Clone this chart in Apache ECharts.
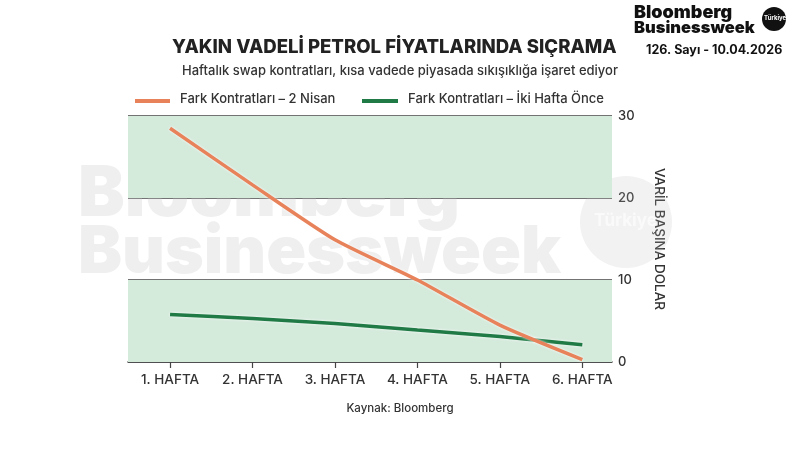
<!DOCTYPE html>
<html><head><meta charset="utf-8">
<script src="https://cdn.jsdelivr.net/npm/echarts@6/dist/echarts.min.js"></script>
<style>html,body{margin:0;padding:0;background:#fff}#c{width:800px;height:450px}</style>
</head><body><div id="c"></div>
<script>
const categories = ['1. HAFTA','2. HAFTA','3. HAFTA','4. HAFTA','5. HAFTA','6. HAFTA'];
const seriesNames = ['Fark Kontratları – 2 Nisan','Fark Kontratları – İki Hafta Önce'];
const nisan2 = [28.5, 21.6, 14.9, 10.0, 4.5, 0.3];
const ikiHaftaOnce = [5.8, 5.3, 4.7, 3.9, 3.1, 2.1];
const yTicks = [0, 10, 20, 30];

const FONT = 'Inter, "Liberation Sans", sans-serif';
const chart = echarts.init(document.getElementById('c'), null, {renderer:'canvas'});
const idx = categories.map((_, i) => i);
chart.setOption({
  backgroundColor:'#fff',
  animation:false,
  grid:{left:128,right:188,top:116,bottom:88,containLabel:false},
  xAxis:{type:'value',min:-0.51,max:5.36,
    axisLine:{show:true,lineStyle:{color:'#444',width:1.6}},
    axisTick:{show:true,length:6,lineStyle:{color:'#444',width:1.2},customValues:idx},
    axisLabel:{customValues:idx,formatter:v=>categories[Math.round(v)],color:'#333',fontFamily:FONT,fontSize:13.5,fontWeight:500,margin:11},
    splitLine:{show:false}},
  yAxis:{type:'value',position:'right',min:0,max:30,interval:10,
    axisLine:{show:false},axisTick:{show:false},
    axisLabel:{color:'#333',fontFamily:FONT,fontSize:13,fontWeight:500,margin:6},
    splitLine:{show:true,lineStyle:{color:'#444',width:1.6}},
    name:'VARİL BAŞINA DOLAR',nameLocation:'middle',nameRotate:-90,nameGap:40,
    nameTextStyle:{color:'#333',fontFamily:FONT,fontSize:13.5,fontWeight:500}},
  graphic:[
    {type:'text',x:172,y:38,style:{text:'YAKIN VADELİ PETROL FİYATLARINDA SIÇRAMA',font:'800 18.6px '+FONT,fill:'#222'},z:10},
    {type:'text',left:'center',top:65,style:{text:'Haftalık swap kontratları, kısa vadede piyasada sıkışıklığa işaret ediyor',font:'500 13px '+FONT,fill:'#333'},z:10},
    {type:'line',shape:{x1:135,y1:101,x2:170,y2:101},style:{stroke:'#e8825a',lineWidth:4},z:10},
    {type:'text',x:180,y:93,style:{text:seriesNames[0],font:'500 13px '+FONT,fill:'#333'},z:10},
    {type:'line',shape:{x1:362,y1:101,x2:398,y2:101},style:{stroke:'#1f7a45',lineWidth:4},z:10},
    {type:'text',x:408,y:93,style:{text:seriesNames[1],font:'500 13px '+FONT,fill:'#333'},z:10},
    {type:'text',left:'center',top:403,style:{text:'Kaynak: Bloomberg',font:'500 11.5px '+FONT,fill:'#333'},z:10},
    // watermark
    {type:'text',x:78,y:160,style:{text:'Bloomberg',font:'900 70px '+FONT,fill:'rgba(190,190,190,0.25)'},z:1},
    {type:'text',x:78,y:220,style:{text:'Businessweek',font:'900 66px '+FONT,fill:'rgba(190,190,190,0.25)'},z:1},
    {type:'circle',shape:{cx:626,cy:222,r:46},style:{fill:'rgba(190,190,190,0.2)'},z:1},
    {type:'text',x:594,y:212,style:{text:'Türkiye',font:'bold 17px '+FONT,fill:'rgba(255,255,255,0.6)'},z:1},
    // header logo
    {type:'text',x:634,y:4,style:{text:'Bloomberg',font:'900 18px '+FONT,fill:'#111'},z:10},
    {type:'text',x:634,y:20,style:{text:'Businessweek',font:'900 16.5px '+FONT,fill:'#111'},z:10},
    {type:'circle',shape:{cx:774,cy:19,r:12},style:{fill:'#111'},z:10},
    {type:'text',x:764,y:15,style:{text:'Türkiye',font:'bold 6px '+FONT,fill:'#fff'},z:11},
    {type:'text',x:646,y:44,style:{text:'126. Sayı - 10.04.2026',font:'bold 12.5px '+FONT,fill:'#111'},z:10}
  ],
  series:[
    {type:'line',name:seriesNames[1],data:ikiHaftaOnce.map((v,i)=>[i,v]),smooth:0.2,symbol:'none',
      lineStyle:{color:'#1f7a45',width:3.5,shadowColor:'rgba(255,255,255,0.9)',shadowBlur:3},z:3,
      markArea:{silent:true,itemStyle:{color:'#d4eadb'},data:[[{yAxis:0},{yAxis:10}],[{yAxis:20},{yAxis:30}]]}},
    {type:'line',name:seriesNames[0],data:nisan2.map((v,i)=>[i,v]),smooth:0.2,symbol:'none',
      lineStyle:{color:'#e8825a',width:3.5,shadowColor:'rgba(255,255,255,0.9)',shadowBlur:3},z:4}
  ]
});
</script></body></html>
